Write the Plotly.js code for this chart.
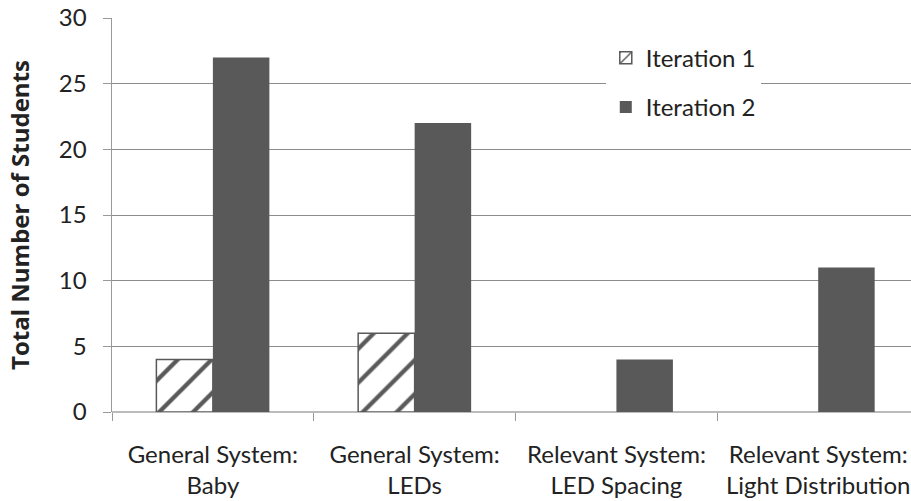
<!DOCTYPE html>
<html><head><meta charset="utf-8">
<script src="https://cdn.plot.ly/plotly-3.0.1.min.js"></script>
<style>html,body{margin:0;padding:0;background:#fff}</style>
</head><body>
<div id="chart" style="width:911px;height:501px"></div>
<script>
const categories = ["General System:<br>Baby", "General System:<br>LEDs", "Relevant System:<br>LED Spacing", "Relevant System:<br>Light Distribution"];
const iteration1 = [4, 6, 0, 0];
const iteration2 = [27, 22, 4, 11];
const seriesNames = ["Iteration 1", "Iteration 2"];
const yTicks = [0, 5, 10, 15, 20, 25, 30];

const font = "Lato, Open Sans, sans-serif";
const data = [
  {type: "bar", name: seriesNames[0], x: categories, y: iteration1, legendgroup: "a",
   marker: {color: "#ffffff", line: {color: "#595959", width: iteration1.map(v => v ? 1.5 : 0)},
     pattern: {shape: "/", fgcolor: "#595959", bgcolor: "#ffffff", size: 24, solidity: 0.18}}},
  {type: "bar", name: seriesNames[1], x: categories, y: iteration2, legendgroup: "b",
   marker: {color: "#595959", line: {width: 0}}}
];
const layout = {
  width: 911, height: 501,
  margin: {l: 112, r: 0, t: 18, b: 89},
  paper_bgcolor: "#fff", plot_bgcolor: "#fff",
  barmode: "group", bargap: 0.44, bargroupgap: 0,
  font: {family: font, size: 22, color: "#222"},
  xaxis: {type: "category", range: [-0.5, 3.46], tickson: "boundaries", ticks: "outside", ticklen: 8, tickcolor: "#999",
    showgrid: false, showline: false, tickfont: {size: 24}, zeroline: false, ticklabelstandoff: 26},
  yaxis: {range: [0, 30], tickvals: yTicks, ticks: "outside", ticklen: 8, tickcolor: "#999",
    showgrid: true, gridcolor: "#8c8c8c", gridwidth: 1, showline: true, linecolor: "#999", linewidth: 1.5,
    zeroline: true, zerolinecolor: "#bbb", zerolinewidth: 1.5, ticklabelstandoff: 11,
    tickfont: {size: 24}, title: {text: "<b>Total Number of Students</b>", font: {family: "Open Sans, sans-serif", size: 24, weight: 700}, standoff: 22}},
  legend: {x: 0.618, y: 0.955, xanchor: "left", yanchor: "top", bgcolor: "#fff",
    font: {size: 24}, traceorder: "grouped", tracegroupgap: 15, itemwidth: 30},
  showlegend: true
};
Plotly.newPlot("chart", data, layout, {displayModeBar: false, staticPlot: true});
</script>
</body></html>
